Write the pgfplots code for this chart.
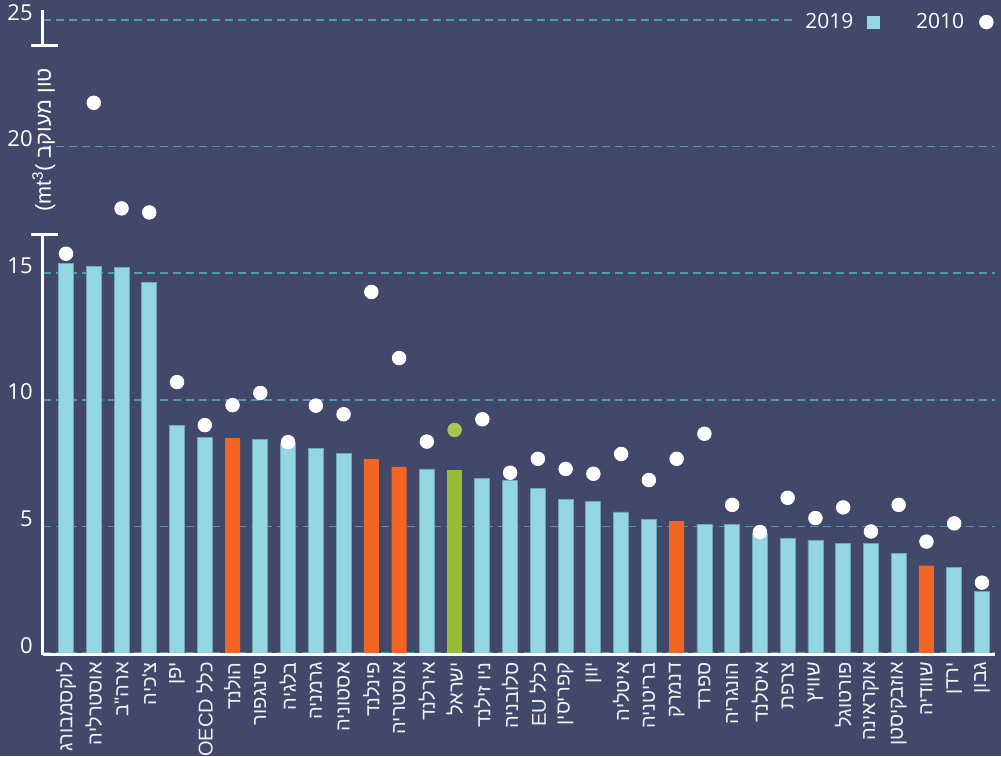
\documentclass[border=0pt]{standalone}
\usepackage{pgfplots}
\pgfplotsset{compat=1.18}
\usepackage{fontspec}
\setmainfont{Open Sans}
\newfontfamily\heb[Script=Hebrew]{Liberation Sans}
\TeXXeTstate=1
\newcommand{\R}[1]{{\heb\beginR #1\endR}}

\definecolor{bg}{HTML}{414869}
\definecolor{barc}{HTML}{93D6DF}
\definecolor{barl}{HTML}{6FA6B8}
\definecolor{orng}{HTML}{F26522}
\definecolor{grn}{HTML}{97BD36}
\definecolor{gridc}{HTML}{4C9DAD}

\begin{document}
\begin{tikzpicture}
\path[fill=bg, use as bounding box] (-21.5pt,-51.5pt) rectangle (479pt,326.5pt);
\begin{axis}[
  at={(0,0)}, anchor=south west,
  scale only axis, width=476pt, height=321.56pt,
  xmin=-0.83, xmax=33.47, ymin=0, ymax=25.4,
  clip=false,
  axis line style={draw=none},
  major tick length=0pt,
  ytick={0,5,...,25},
  ymajorgrids,
  grid style={gridc, line width=0.75pt, dash pattern=on 4pt off 2.5pt},
  xtick={0,...,33},
  xticklabels={\R{לוקסמבורג},\R{אוסטרליה},\R{ארה"ב},\R{צ'כיה},\R{יפן},\R{כלל \beginL OECD\endL{}},\R{הולנד},\R{סינגפור},\R{בלגיה},\R{גרמניה},\R{אסטוניה},\R{פינלנד},\R{אוסטריה},\R{אירלנד},\R{ישראל},\R{ניו זילנד},\R{סלובניה},\R{כלל \beginL EU\endL{}},\R{קפריסין},\R{יוון},\R{איטליה},\R{בריטניה},\R{דנמרק},\R{ספרד},\R{הונגריה},\R{איסלנד},\R{צרפת},\R{שוויץ},\R{פורטוגל},\R{אוקראינה},\R{אוזבקיסטן},\R{שוודיה},\R{ירדן},\R{גבון}},
  xticklabel style={rotate=90, anchor=east, inner xsep=4.5pt, text=white!92!bg, font=\fontsize{10}{12}\selectfont},
  yticklabel style={anchor=base east, inner sep=0pt, xshift=-5pt, text=white, font=\fontsize{11}{13}\selectfont},
  /pgf/number format/assume math mode=true,
  legend plot pos=right,
  legend columns=2,
  legend style={at={(1,0.981)}, anchor=east, xshift=8pt, draw=none, fill=bg, text=white,
    font=\fontsize{10.5}{12}\selectfont, column sep=4pt,
    /tikz/every even column/.append style={column sep=16pt}, inner sep=2pt},
]
\addlegendimage{legend image code/.code={\path (0pt,0pt); \fill[barc] (1pt,-3pt) rectangle (7pt,3pt);}}
\addlegendentry{2019}
\addlegendimage{legend image code/.code={\path (0pt,0pt) (14.8pt,0pt); \fill[white] (4.9pt,0pt) circle (3.4pt);}}
\addlegendentry{2010}

% 2019
\addplot[ybar, bar width=0.54, bar shift=0pt, fill=barc, draw=barl, line width=0.4pt, forget plot] coordinates {
  (0,15.40) (1,15.28) (2,15.21) (3,14.65) (4,9.00) (5,8.52) (7,8.42) (8,8.29) (9,8.08)
  (10,7.89) (13,7.27) (15,6.90) (16,6.80) (17,6.50) (18,6.08) (19,5.99) (20,5.57)
  (21,5.29) (23,5.09) (24,5.07) (25,4.74) (26,4.53) (27,4.45) (28,4.34) (29,4.32)
  (30,3.92) (32,3.38) (33,2.42)
};
\addplot[ybar, bar width=0.54, bar shift=0pt, fill=orng, draw=none, forget plot] coordinates {
  (6,8.49) (11,7.66) (12,7.35) (22,5.21) (31,3.45)
};
\addplot[ybar, bar width=0.54, bar shift=0pt, fill=grn, draw=none, forget plot] coordinates {
  (14,7.23)
};

% 2010
\addplot[white, only marks, mark=*, mark size=3.4pt, mark options={fill=white, draw=none}, forget plot] coordinates {
  (0,15.77) (1,21.73) (2,17.56) (3,17.40) (4,10.70) (5,9.00) (6,9.79) (7,10.27) (8,8.33)
  (9,9.77) (10,9.43) (11,14.26) (12,11.65) (13,8.35) (15,9.23) (16,7.12) (17,7.67)
  (18,7.27) (19,7.08) (20,7.86) (21,6.83) (22,7.67) (23,8.66) (24,5.85) (25,4.78)
  (26,6.13) (27,5.33) (28,5.75) (29,4.80) (30,5.85) (31,4.40) (32,5.12) (33,2.78)
};
\addplot[grn!85!white, only marks, mark=*, mark size=3.4pt, mark options={fill=grn!85!white, draw=none}, forget plot] coordinates {
  (14,8.81)
};

% axes
\draw[white, line width=1.4pt] (axis cs:-0.83,-0.06) -- (axis cs:33.47,-0.06);
\draw[white, line width=1.5pt] (axis cs:-0.83,25.4) -- (axis cs:-0.83,24.01);
\draw[white, line width=1.5pt] (axis cs:-1.26,24.01) -- (axis cs:-0.29,24.01);
\draw[white, line width=1.5pt] (axis cs:-1.26,16.51) -- (axis cs:-0.29,16.51);
\draw[white, line width=1.5pt] (axis cs:-0.83,16.51) -- (axis cs:-0.83,-0.06);
\node[rotate=90, text=white, font=\heb\fontsize{10.8}{12}\selectfont] at (axis cs:-0.8,20.26)
  {\beginR טון מעוקב \beginL(mt\textsuperscript{3})\endL\endR};
\end{axis}
\end{tikzpicture}
\end{document}
